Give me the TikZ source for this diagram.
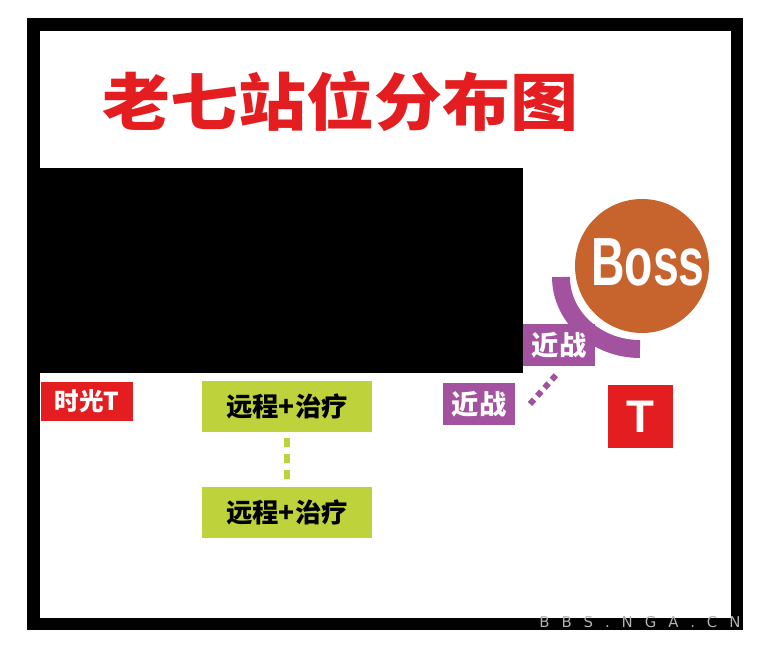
\documentclass[tikz,border=0pt]{standalone}
\usepackage{fontspec}
\setmainfont{Liberation Sans}
\newfontfamily\cjk{Noto Sans CJK SC}
\newfontfamily\wmfont[LetterSpace=80]{DejaVu Sans}
\definecolor{titlered}{RGB}{228,30,32}
\definecolor{bossorange}{RGB}{199,99,45}
\definecolor{meleepurple}{RGB}{163,82,160}
\definecolor{healgreen}{RGB}{190,210,60}

\begin{document}
\begin{tikzpicture}[x=0.02cm, y=-0.02cm,
		redbox/.style={fill=titlered, text=white, inner sep=0pt, font=\cjk\bfseries\fontsize{14pt}{15pt}\selectfont},
		greenbox/.style={fill=healgreen, inner sep=0pt, minimum width=3.4cm, minimum height=1.02cm, font=\cjk\bfseries\fontsize{15pt}{16pt}\selectfont},
		purplebox/.style={fill=meleepurple, text=white, inner sep=0pt, minimum width=1.44cm, minimum height=0.84cm, font=\cjk\bfseries\fontsize{15.5pt}{16pt}\selectfont},
		healdash/.style={healgreen, line width=3.4pt, dash pattern=on 5.1pt off 4pt, shorten <=3.4pt, shorten >=4.5pt},
		meleedash/.style={meleepurple, line width=3.4pt, dash pattern=on 3.4pt off 2.8pt}]
		\useasboundingbox (0,0) rectangle (772,648);
		\fill[white] (0,0) rectangle (772,648);
		\draw[line width=7.37pt] (33.5,24.5) rectangle (737,624);
		\fill (40,168) rectangle (523,373);
		\node[text=titlered, font=\cjk\bfseries\fontsize{35.5pt}{38pt}\selectfont] (title) at (340.5,101.5) {\scalebox{1.09}[1]{老七站位分布图}};

		\draw[meleepurple, line width=10.2pt] (561,277) arc[start angle=180, end angle=90, x radius=79, y radius=72];
		\node[circle, fill=bossorange, minimum size=2.68cm, inner sep=0pt] (boss) at (642,266) {};
		\node[text=white, font=\bfseries\fontsize{38.8pt}{40pt}\selectfont] (bosstext) at (648,262) {\scalebox{0.68}[1]{Boss}};
		\node[purplebox] (melee1) at (559,345) {近战};
		\node[purplebox] (melee2) at (479,404) {近战};
		\coordinate (m2) at (530,404);
		\coordinate (m1) at (557,374);
		\draw[meleedash] (m2) -- (m1);
		\node[redbox, minimum width=1.3cm, minimum height=1.26cm, font=\bfseries\fontsize{26pt}{28pt}\selectfont] (tank) at (640.5,416.5) {T};

		\node[redbox, minimum width=1.84cm, minimum height=0.78cm] (shiguang) at (87,401.5) {时光T};
		\node[greenbox] (ranged1) at (287,406.5) {远程+治疗};
		\node[greenbox] (ranged2) at (287,512.5) {远程+治疗};
		\draw[healdash] (ranged1) -- (ranged2);

		\node[text=gray!60, font=\wmfont\fontsize{8.5pt}{9pt}\selectfont] (bbs) at (640,622.5) {BBS.NGA.CN};
\end{tikzpicture}
\end{document}
